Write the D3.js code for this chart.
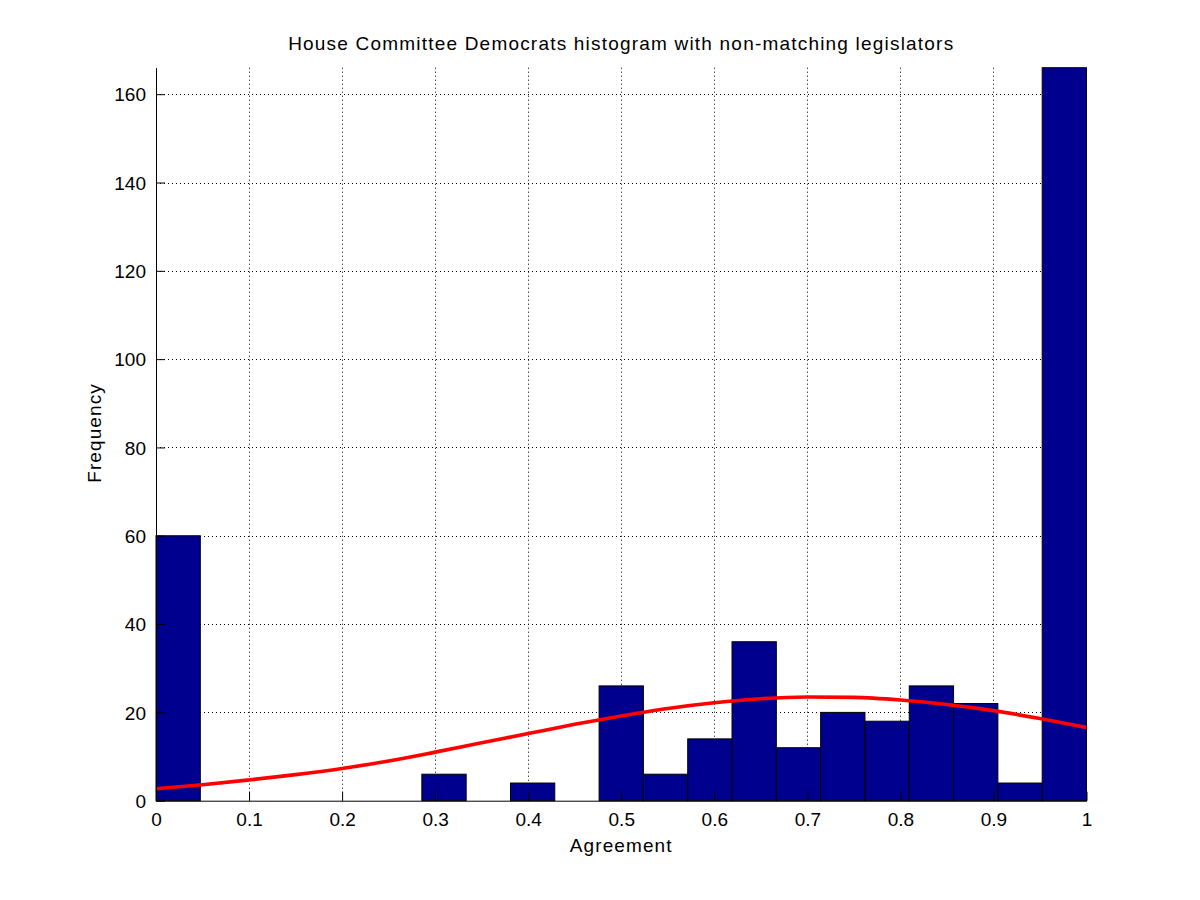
<!DOCTYPE html>
<html>
<head>
<meta charset="utf-8">
<script src="https://cdn.jsdelivr.net/npm/d3@7"></script>
<style>
  body { margin: 0; background: #fff; }
  svg { display: block; font-family: "Liberation Sans", Arial, Helvetica, sans-serif; }
  .grid line { stroke: #000; stroke-dasharray: 1,3; stroke-width: 1; }
  .label { font-size: 19px; letter-spacing: 1.1px; fill: #000; }
</style>
</head>
<body>
<svg id="chart" width="1200" height="900"></svg>
<script>
// histogram bins (21 equal bins on [0,1]) and counts
var binCount = 21;
var binCounts = [60, 0, 0, 0, 0, 0, 6, 0, 4, 0, 26, 6, 14, 36, 12, 20, 18, 26, 22, 4, 166];

// fitted curve, read at 0.05 steps
var curveX = [0, 0.05, 0.1, 0.15, 0.2, 0.25, 0.3, 0.35, 0.4, 0.45, 0.5,
              0.55, 0.6, 0.65, 0.7, 0.75, 0.8, 0.85, 0.9, 0.95, 1];
var curveY = [2.7, 3.6, 4.7, 5.9, 7.3, 9.0, 11.0, 13.1, 15.2, 17.3, 19.2,
              20.9, 22.2, 23.1, 23.5, 23.4, 22.8, 21.8, 20.4, 18.6, 16.6];

var xTicks = [0, 0.1, 0.2, 0.3, 0.4, 0.5, 0.6, 0.7, 0.8, 0.9, 1];
var xTickLabels = ["0", "0.1", "0.2", "0.3", "0.4", "0.5", "0.6", "0.7", "0.8", "0.9", "1"];
var yTicks = [0, 20, 40, 60, 80, 100, 120, 140, 160];
var yMax = 166;

var plotLeft = 156, plotRight = 1086.5, plotTop = 67.7, plotBottom = 800.7;

var svg = d3.select("#chart");

var x = d3.scaleLinear().domain([0, 1]).range([plotLeft, plotRight]);
var y = d3.scaleLinear().domain([0, yMax]).range([plotBottom, plotTop]);

var bins = binCounts.map(function(c, i) {
    return { x0: i / binCount, x1: (i + 1) / binCount, count: c };
});

// dotted grid, behind the bars
var grid = svg.append("g").attr("class", "grid");
grid.selectAll(".gx")
    .data(xTicks.filter(function(d) { return d > 0 && d < 1; }))
    .enter().append("line")
    .attr("x1", function(d) { return Math.round(x(d)) + 0.5; })
    .attr("x2", function(d) { return Math.round(x(d)) + 0.5; })
    .attr("y1", plotBottom)
    .attr("y2", plotTop);
grid.selectAll(".gy")
    .data(yTicks.filter(function(d) { return d > 0; }))
    .enter().append("line")
    .attr("x1", plotLeft)
    .attr("x2", plotRight)
    .attr("y1", function(d) { return Math.round(y(d)) + 0.5; })
    .attr("y2", function(d) { return Math.round(y(d)) + 0.5; });

// bars
svg.append("g").selectAll("rect")
    .data(bins.filter(function(b) { return b.count > 0; }))
    .enter().append("rect")
    .attr("x", function(b) { return x(b.x0); })
    .attr("width", function(b) { return x(b.x1) - x(b.x0); })
    .attr("y", function(b) { return y(b.count); })
    .attr("height", function(b) { return y(0) - y(b.count); })
    .attr("fill", "#00008f")
    .attr("stroke", "#000")
    .attr("stroke-width", 1);

// red fit line
var line = d3.line()
    .x(function(d, i) { return x(curveX[i]); })
    .y(function(d) { return y(d); })
    .curve(d3.curveMonotoneX);

svg.append("path")
    .datum(curveY)
    .attr("d", line)
    .attr("fill", "none")
    .attr("stroke", "#ff0000")
    .attr("stroke-width", 3.6);

// axes with inward ticks
var xAxis = d3.axisBottom(x)
    .tickValues(xTicks)
    .tickFormat(function(d, i) { return xTickLabels[i]; })
    .tickSizeInner(-9)
    .tickSizeOuter(0)
    .tickPadding(12);

var yAxis = d3.axisLeft(y)
    .tickValues(yTicks)
    .tickSizeInner(-9)
    .tickSizeOuter(0)
    .tickPadding(10);

var gx = svg.append("g")
    .attr("transform", "translate(0," + plotBottom + ")")
    .call(xAxis);
var gy = svg.append("g")
    .attr("transform", "translate(" + plotLeft + ",0)")
    .call(yAxis);

[gx, gy].forEach(function(g) {
    g.selectAll("path, line").attr("stroke", "#000").attr("stroke-width", 1);
    g.selectAll("text")
        .attr("fill", "#000")
        .style("font-size", "19px")
        .style("font-family", "'Liberation Sans', Arial, sans-serif");
});
gy.selectAll("text").attr("dy", "0.35em");

// title and labels
svg.append("text")
    .attr("class", "label")
    .attr("x", (plotLeft + plotRight) / 2)
    .attr("y", 50)
    .attr("text-anchor", "middle")
    .style("letter-spacing", "1.2px")
    .text("House Committee Democrats histogram with non-matching legislators");

svg.append("text")
    .attr("class", "label")
    .attr("x", (plotLeft + plotRight) / 2)
    .attr("y", 852)
    .attr("text-anchor", "middle")
    .text("Agreement");

svg.append("text")
    .attr("class", "label")
    .attr("transform", "translate(101,433) rotate(-90)")
    .attr("text-anchor", "middle")
    .text("Frequency");
</script>
</body>
</html>
